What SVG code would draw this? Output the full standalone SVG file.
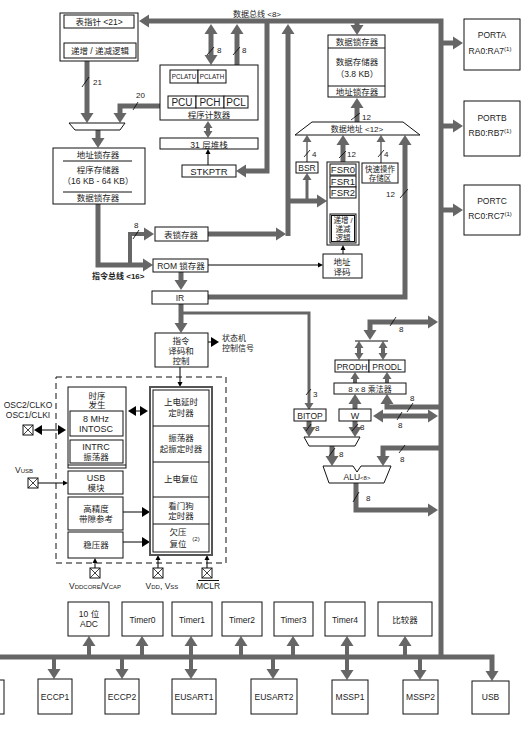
<svg xmlns="http://www.w3.org/2000/svg" width="530" height="736" viewBox="0 0 530 736">
<defs>
<style>
text{font-family:"Liberation Sans","Noto Sans CJK SC",sans-serif;font-size:8.5px;fill:#222;text-anchor:middle}
.l{text-anchor:start;font-size:8px}
.sm{font-size:6px}
.b{fill:#fff;stroke:#111;stroke-width:1}
.n{fill:none;stroke:#111;stroke-width:1}
.k{fill:none;stroke:#666;stroke-width:5}
.k4{fill:none;stroke:#666;stroke-width:4}
.m{fill:none;stroke:#666;stroke-width:3}
.m1{fill:none;stroke:#666;stroke-width:1.5}
.t{fill:none;stroke:#000;stroke-width:1}
.s{stroke:#000;stroke-width:0.8}
</style>
<marker id="aK" viewBox="0 -7 10 14" markerWidth="10" markerHeight="14" refX="0" refY="0" markerUnits="userSpaceOnUse" orient="auto-start-reverse"><path d="M0,-6.5L10,0L0,6.5z" fill="#666"/></marker>
<marker id="aM" viewBox="0 -5 7 10" markerWidth="7" markerHeight="10" refX="0" refY="0" markerUnits="userSpaceOnUse" orient="auto-start-reverse"><path d="M0,-4.5L7,0L0,4.5z" fill="#666"/></marker>
<marker id="aT" viewBox="0 -3 5 6" markerWidth="5" markerHeight="6" refX="0" refY="0" markerUnits="userSpaceOnUse" orient="auto-start-reverse"><path d="M0,-2.5L5,0L0,2.5z" fill="#000"/></marker>
<marker id="aB" viewBox="0 -5 8 10" markerWidth="8" markerHeight="10" refX="0" refY="0" markerUnits="userSpaceOnUse" orient="auto-start-reverse"><path d="M0,-5L8,0L0,5z" fill="#000"/></marker>
<g id="pin"><rect x="0" y="0" width="10" height="10" fill="#fff" stroke="#111" stroke-width="1"/><path d="M0,0L10,10M10,0L0,10" stroke="#111" stroke-width="0.8"/></g>
</defs>
<rect width="530" height="736" fill="#fff"/>

<g id="connectors">
<!-- thick buses -->
<path class="k" d="M441,657V21H149" marker-end="url(#aK)"/>
<path class="k" d="M0,657H492V671" marker-end="url(#aK)"/>
<path class="k" d="M267,21V171H246" marker-end="url(#aK)"/>
<path class="k" d="M208,234H276" marker-end="url(#aK)"/>
<path class="k" d="M288,236V34" marker-end="url(#aK)"/>
<path class="k" d="M288,201H317" marker-end="url(#aK)"/>
<path class="k" d="M211,34V55" marker-start="url(#aK)" marker-end="url(#aK)"/>
<path class="k" d="M237,34V86" marker-start="url(#aK)" marker-end="url(#aK)"/>
<path class="k" d="M87,61V113" marker-end="url(#aK)"/>
<path class="k" d="M160,106H120V113" marker-end="url(#aK)"/>
<path class="k" d="M98,130V138" marker-end="url(#aK)"/>
<path class="k4" d="M208,128V131" marker-start="url(#aM)" marker-end="url(#aM)"/>
<path class="k" d="M98,204V265H143" marker-end="url(#aK)"/>
<path class="k4" d="M130,265V234H144" marker-end="url(#aK)"/>
<path class="k" d="M181,272V280" marker-end="url(#aK)"/>
<path class="k" d="M208,297H405V145" marker-end="url(#aK)"/>
<path class="k" d="M181,304V323" marker-end="url(#aK)"/>
<path class="k" d="M343,162V145" marker-end="url(#aK)"/>
<path class="k" d="M357,122V108" marker-end="url(#aK)"/>
<path class="k" d="M357,23V25" marker-end="url(#aK)"/>
<path class="k" d="M443,43H453" marker-end="url(#aK)"/>
<path class="k" d="M443,126H453" marker-end="url(#aK)"/>
<path class="k" d="M443,210H453" marker-end="url(#aK)"/>
<path class="k" d="M428,322H370V330" marker-start="url(#aK)" marker-end="url(#aK)"/>
<path class="k" d="M383,416H428" marker-start="url(#aK)" marker-end="url(#aK)"/>
<path class="k" d="M440,407H387V404" marker-end="url(#aK)"/>
<path class="k" d="M355,409V404" marker-end="url(#aK)"/>
<path class="k4" d="M355,383V379" marker-end="url(#aM)"/>
<path class="k4" d="M387,383V379" marker-end="url(#aM)"/>
<path class="k4" d="M359,348V353" marker-start="url(#aM)" marker-end="url(#aM)"/>
<path class="k4" d="M383,348V353" marker-start="url(#aM)" marker-end="url(#aM)"/>
<path class="k" d="M309,421V427" marker-end="url(#aK)"/>
<path class="k" d="M355,421V427" marker-end="url(#aK)"/>
<path class="k" d="M332,446V456" marker-end="url(#aK)"/>
<path class="k" d="M440,448H383V456" marker-end="url(#aK)"/>
<path class="k" d="M356,483V510H428" marker-end="url(#aK)"/>
<!-- peripheral bus taps -->
<path class="k4" d="M89,655V646" marker-end="url(#aK)"/>
<path class="k4" d="M142,655V646" marker-end="url(#aK)"/>
<path class="k4" d="M241,655V646" marker-end="url(#aK)"/>
<path class="k4" d="M293,655V646" marker-end="url(#aK)"/>
<path class="k4" d="M405,655V646" marker-end="url(#aK)"/>
<path class="k4" d="M191,646V669" marker-start="url(#aK)" marker-end="url(#aK)"/>
<path class="k4" d="M347,646V670" marker-start="url(#aK)" marker-end="url(#aK)"/>
<path class="k4" d="M54,659V669" marker-end="url(#aK)"/>
<path class="k4" d="M122,659V669" marker-end="url(#aK)"/>
<path class="k4" d="M273,659V669" marker-end="url(#aK)"/>
<path class="k4" d="M420,659V670" marker-end="url(#aK)"/>
<!-- medium -->
<path class="m" d="M181,313H309V403" marker-end="url(#aM)"/>
<path class="m" d="M307,201V180" marker-end="url(#aM)"/>
<path class="m1" d="M307,162V142" marker-end="url(#aM)"/>
<path class="m1" d="M381,163V142" marker-end="url(#aM)"/>
<!-- thin -->
<path class="t" d="M101,33V38" marker-start="url(#aT)" marker-end="url(#aT)"/>
<path class="t" d="M211,88V91" marker-start="url(#aT)" marker-end="url(#aT)"/>
<path class="t" d="M208,165V154" marker-end="url(#aT)"/>
<path class="t" d="M208,265H318" marker-end="url(#aT)"/>
<path class="t" d="M343,254V250" marker-end="url(#aT)"/>
<path class="t" d="M343,204V209" marker-start="url(#aT)" marker-end="url(#aT)"/>
<path class="t" d="M180,367V382" marker-end="url(#aT)"/>
<path class="t" stroke-width="2" d="M208,342H211" marker-end="url(#aB)"/>
<path class="t" d="M136,411H140" marker-start="url(#aB)" marker-end="url(#aB)"/>
<path class="t" d="M42,430H58" marker-start="url(#aB)" marker-end="url(#aB)"/>
<path class="t" d="M38,483H63" marker-end="url(#aT)"/>
<path class="t" d="M123,512H142" marker-end="url(#aB)"/>
<path class="t" d="M123,542H142" marker-end="url(#aB)"/>
<path class="t" d="M95,568V563" marker-end="url(#aT)"/>
<path class="t" d="M158,568V560" marker-end="url(#aT)"/>
<path class="t" d="M207,568V560" marker-end="url(#aT)"/>
<!-- bus width slashes -->
<path class="s" d="M82,87L89,77M133,110L138,102M207,55L214,47M233,55L240,47M133,239L139,230M400,198L408,189M351,120L360,113M304,157L310,150M339,158L346,151M378,157L384,150M390,326L396,317M407,412L413,403M397,420L402,412M306,395L311,389M306,431L311,424M352,431L358,424M329,456L335,448M399,453L405,445M353,502L359,492"/>
<text class="l" x="93" y="85">21</text>
<text class="l" x="136" y="98">20</text>
<text class="l" x="217" y="53">8</text>
<text class="l" x="242" y="53">8</text>
<text class="l" x="134" y="228">8</text>
<text class="l" x="386" y="197">12</text>
<text class="l" x="362" y="120">12</text>
<text class="l" x="312" y="157">4</text>
<text class="l" x="347" y="157">12</text>
<text class="l" x="384" y="157">4</text>
<text class="l" x="399" y="332">8</text>
<text class="l" x="410" y="401">8</text>
<text class="l" x="398" y="428">8</text>
<text class="l" x="313" y="397">3</text>
<text class="l" x="315" y="431">8</text>
<text class="l" x="360" y="430">8</text>
<text class="l" x="339" y="457">8</text>
<text class="l" x="400" y="462">8</text>
<text class="l" x="366" y="501">8</text>
<text class="l" x="233" y="17">数据总线 &lt;8&gt;</text>
<text class="l" x="92" y="279" style="font-weight:bold">指令总线 &lt;16&gt;</text>
<text class="l" x="222" y="341">状态机</text>
<text class="l" x="222" y="351">控制信号</text>
</g>

<g id="table-pointer">
<rect class="b" x="60" y="13" width="78" height="48"/>
<rect class="b" x="64" y="15" width="70" height="13"/>
<text x="99" y="25">表指针 &lt;21&gt;</text>
<rect class="b" x="64" y="43" width="72" height="15"/>
<text x="100" y="54">递增 / 递减逻辑</text>
</g>

<g id="program-counter">
<rect class="b" x="160" y="65" width="98" height="55"/>
<rect class="b" x="170" y="70" width="28" height="13"/>
<text x="184" y="79" style="font-size:6.3px">PCLATU</text>
<rect class="b" x="198" y="70" width="28" height="13"/>
<text x="212" y="79" style="font-size:6.3px">PCLATH</text>
<rect class="b" x="168" y="96" width="28" height="12"/>
<text x="182" y="105.5" style="font-size:10px">PCU</text>
<rect class="b" x="196" y="96" width="28" height="12"/>
<text x="210" y="105.5" style="font-size:10px">PCH</text>
<rect class="b" x="224" y="96" width="24" height="12"/>
<text x="236" y="105.5" style="font-size:10px">PCL</text>
<text x="209" y="118">程序计数器</text>
</g>

<g id="stack">
<rect class="b" x="160" y="138" width="98" height="11"/>
<text x="209" y="147.5">31 层堆栈</text>
</g>

<g id="stkptr">
<rect class="b" x="182" y="165" width="54" height="12"/>
<text x="209" y="174.5" style="font-size:9.5px">STKPTR</text>
</g>

<g id="addr-mux">
<polygon class="b" points="69,123 125,123 120,130 75,130"/>
</g>

<g id="program-memory">
<rect class="b" x="53" y="148" width="92" height="56"/>
<path class="n" d="M63,161H132M63,192H132"/>
<text x="98" y="158">地址锁存器</text>
<text x="98" y="173">程序存储器</text>
<text x="98" y="184">（16 KB - 64 KB）</text>
<text x="98" y="201">数据锁存器</text>
</g>

<g id="table-latch">
<rect class="b" x="155" y="227" width="53" height="14"/>
<text x="181" y="237.5">表锁存器</text>
</g>

<g id="rom-latch">
<rect class="b" x="153" y="259" width="55" height="13"/>
<text x="181" y="269">ROM 锁存器</text>
</g>

<g id="ir">
<rect class="b" x="152" y="291" width="56" height="13"/>
<text x="180" y="301">IR</text>
</g>

<g id="decoder">
<rect class="b" x="155" y="333" width="53" height="34"/>
<text x="181" y="344">指令</text>
<text x="181" y="354">译码和</text>
<text x="181" y="364">控制</text>
</g>

<g id="control-block">
<rect x="56" y="377" width="170" height="186" fill="none" stroke="#111" stroke-width="1" stroke-dasharray="6,4"/>
</g>

<g id="timing">
<rect class="b" x="68" y="387" width="58" height="81"/>
<path class="n" d="M68,465H126"/>
<text x="97" y="399">时序</text>
<text x="97" y="408">发生</text>
<rect class="b" x="70" y="411" width="53" height="25"/>
<text x="96" y="422" style="font-size:9px">8 MHz</text>
<text x="96" y="432" style="font-size:9px">INTOSC</text>
<rect class="b" x="70" y="440" width="53" height="23"/>
<text x="96" y="450" style="font-size:9px">INTRC</text>
<text x="96" y="460">振荡器</text>
</g>

<g id="usb-module">
<rect class="b" x="68" y="471" width="55" height="23"/>
<text x="96" y="481" style="font-size:9px">USB</text>
<text x="96" y="491">模块</text>
</g>

<g id="bandgap">
<rect class="b" x="68" y="497" width="55" height="33"/>
<text x="96" y="512">高精度</text>
<text x="96" y="522">带隙参考</text>
</g>

<g id="regulator">
<rect class="b" x="68" y="532" width="55" height="26"/>
<text x="96" y="548">稳压器</text>
</g>

<g id="reset-timers">
<rect x="150" y="387" width="62" height="168" fill="#fff" stroke="#555" stroke-width="2"/>
<rect class="n" x="153" y="390" width="56" height="162"/>
<path class="n" d="M153,426H209M153,462H209M153,497H209M153,524H209"/>
<text x="181" y="405">上电延时</text>
<text x="181" y="416">定时器</text>
<text x="181" y="441">振荡器</text>
<text x="181" y="452">起振定时器</text>
<text x="181" y="482">上电复位</text>
<text x="181" y="509">看门狗</text>
<text x="181" y="519">定时器</text>
<text x="178" y="535">欠压</text>
<text x="178" y="547">复位</text>
<text x="196" y="541" class="sm">(2)</text>
</g>

<g id="pins">
<text x="28" y="408">OSC2/CLKO</text>
<text x="28" y="418">OSC1/CLKI</text>
<use href="#pin" x="23" y="425"/>
<text x="24" y="473">V<tspan class="sm">USB</tspan></text>
<use href="#pin" x="28" y="478"/>
<use href="#pin" x="90" y="568"/>
<use href="#pin" x="153" y="568"/>
<use href="#pin" x="202" y="568"/>
<text x="95" y="589">V<tspan class="sm">DDCORE</tspan>/V<tspan class="sm">CAP</tspan></text>
<text x="162" y="589">V<tspan class="sm">DD</tspan>, V<tspan class="sm">SS</tspan></text>
<text x="208" y="589">MCLR</text>
<path class="n" d="M198,580.5H219"/>
</g>

<g id="data-memory">
<rect class="b" x="328" y="35" width="57" height="62"/>
<path class="n" d="M328,48H385M328,86H385"/>
<text x="357" y="45">数据锁存器</text>
<text x="357" y="65">数据存储器</text>
<text x="357" y="77">（3.8 KB）</text>
<text x="357" y="95">地址锁存器</text>
</g>

<g id="data-address">
<polygon class="b" points="312,122 403,122 420,135 295,135"/>
<text x="357" y="132" style="font-size:8px">数据地址 &lt;12&gt;</text>
</g>

<g id="bsr">
<rect class="b" x="296" y="162" width="22" height="11"/>
<text x="307" y="171" style="font-size:8.5px">BSR</text>
</g>

<g id="fsr">
<rect class="b" x="327" y="162" width="32" height="83"/>
<rect class="b" x="330" y="164" width="26" height="11"/>
<text x="343" y="173" style="font-size:9.5px">FSR0</text>
<rect class="b" x="330" y="176" width="26" height="11"/>
<text x="343" y="185" style="font-size:9.5px">FSR1</text>
<rect class="b" x="330" y="187" width="26" height="11"/>
<text x="343" y="196" style="font-size:9.5px">FSR2</text>
<rect class="b" x="330" y="214" width="26" height="29"/>
<rect class="n" x="331.5" y="215.5" width="23" height="26"/>
<text x="343" y="223" style="font-size:7.5px">递增 /</text>
<text x="343" y="232" style="font-size:7.5px">递减</text>
<text x="343" y="241" style="font-size:7.5px">逻辑</text>
</g>

<g id="access-bank">
<rect class="b" x="362" y="163" width="36" height="20"/>
<text x="380" y="172" style="font-size:7.5px">快速操作</text>
<text x="380" y="181" style="font-size:7.5px">存储区</text>
</g>

<g id="addr-decode">
<rect class="b" x="323" y="254" width="39" height="24"/>
<text x="342" y="265">地址</text>
<text x="342" y="275">译码</text>
</g>

<g id="porta">
<rect class="b" x="464" y="19" width="56" height="51"/>
<text x="492" y="38" style="font-size:8.5px">PORTA</text>
<text x="490" y="54" style="font-size:8.5px">RA0:RA7<tspan class="sm" dy="-3">(1)</tspan></text>
</g>
<g id="portb">
<rect class="b" x="464" y="101" width="56" height="55"/>
<text x="492" y="121" style="font-size:8.5px">PORTB</text>
<text x="490" y="136" style="font-size:8.5px">RB0:RB7<tspan class="sm" dy="-3">(1)</tspan></text>
</g>
<g id="portc">
<rect class="b" x="464" y="185" width="56" height="50"/>
<text x="492" y="204" style="font-size:8.5px">PORTC</text>
<text x="490" y="219" style="font-size:8.5px">RC0:RC7<tspan class="sm" dy="-3">(1)</tspan></text>
</g>

<g id="prod">
<path class="n" d="M355,341H388"/>
<rect class="b" x="335" y="360" width="34" height="12"/>
<text x="352" y="369.5">PRODH</text>
<rect class="b" x="369" y="360" width="36" height="12"/>
<text x="387" y="369.5">PRODL</text>
</g>

<g id="multiplier">
<rect class="b" x="334" y="383" width="72" height="11"/>
<text x="370" y="392" style="font-size:8px">8 x 8 乘法器</text>
</g>

<g id="w-reg">
<rect class="b" x="339" y="409" width="32" height="12"/>
<text x="355" y="418.5" style="font-size:9px">W</text>
</g>

<g id="bitop">
<rect class="b" x="294" y="409" width="32" height="12"/>
<text x="310" y="418.5">BITOP</text>
</g>

<g id="alu-mux">
<polygon class="b" points="304,437 360,437 355,446 309,446"/>
</g>

<g id="alu">
<polygon class="b" points="323,466 353,466 357,472 361,466 391,466 384,483 329,483"/>
<text x="357" y="480">ALU<tspan class="sm">&lt;8&gt;</tspan></text>
</g>

<g id="adc"><rect class="b" x="68" y="602" width="41" height="34"/><text x="89" y="617">10 位</text><text x="89" y="627">ADC</text></g>
<g id="timer0"><rect class="b" x="122" y="602" width="41" height="34"/><text x="142.5" y="623">Timer0</text></g>
<g id="timer1"><rect class="b" x="172" y="602" width="40" height="34"/><text x="192" y="623">Timer1</text></g>
<g id="timer2"><rect class="b" x="222" y="602" width="40" height="34"/><text x="242" y="623">Timer2</text></g>
<g id="timer3"><rect class="b" x="274" y="602" width="39" height="34"/><text x="293.5" y="623">Timer3</text></g>
<g id="timer4"><rect class="b" x="325" y="602" width="40" height="34"/><text x="345" y="623">Timer4</text></g>
<g id="comparator"><rect class="b" x="378" y="602" width="54" height="34"/><text x="405" y="623">比较器</text></g>

<g id="partial"><rect class="b" x="-5" y="680" width="9" height="34"/></g>
<g id="eccp1"><rect class="b" x="38" y="679" width="34" height="35"/><text x="55" y="700">ECCP1</text></g>
<g id="eccp2"><rect class="b" x="105" y="679" width="34" height="35"/><text x="122" y="700">ECCP2</text></g>
<g id="eusart1"><rect class="b" x="172" y="679" width="44" height="35"/><text x="194" y="700">EUSART1</text></g>
<g id="eusart2"><rect class="b" x="251" y="679" width="46" height="35"/><text x="274" y="700">EUSART2</text></g>
<g id="mssp1"><rect class="b" x="332" y="680" width="36" height="34"/><text x="350" y="700">MSSP1</text></g>
<g id="mssp2"><rect class="b" x="403" y="680" width="35" height="34"/><text x="420.5" y="700">MSSP2</text></g>
<g id="usb"><rect class="b" x="472" y="681" width="37" height="33"/><text x="490.5" y="700">USB</text></g>
</svg>
